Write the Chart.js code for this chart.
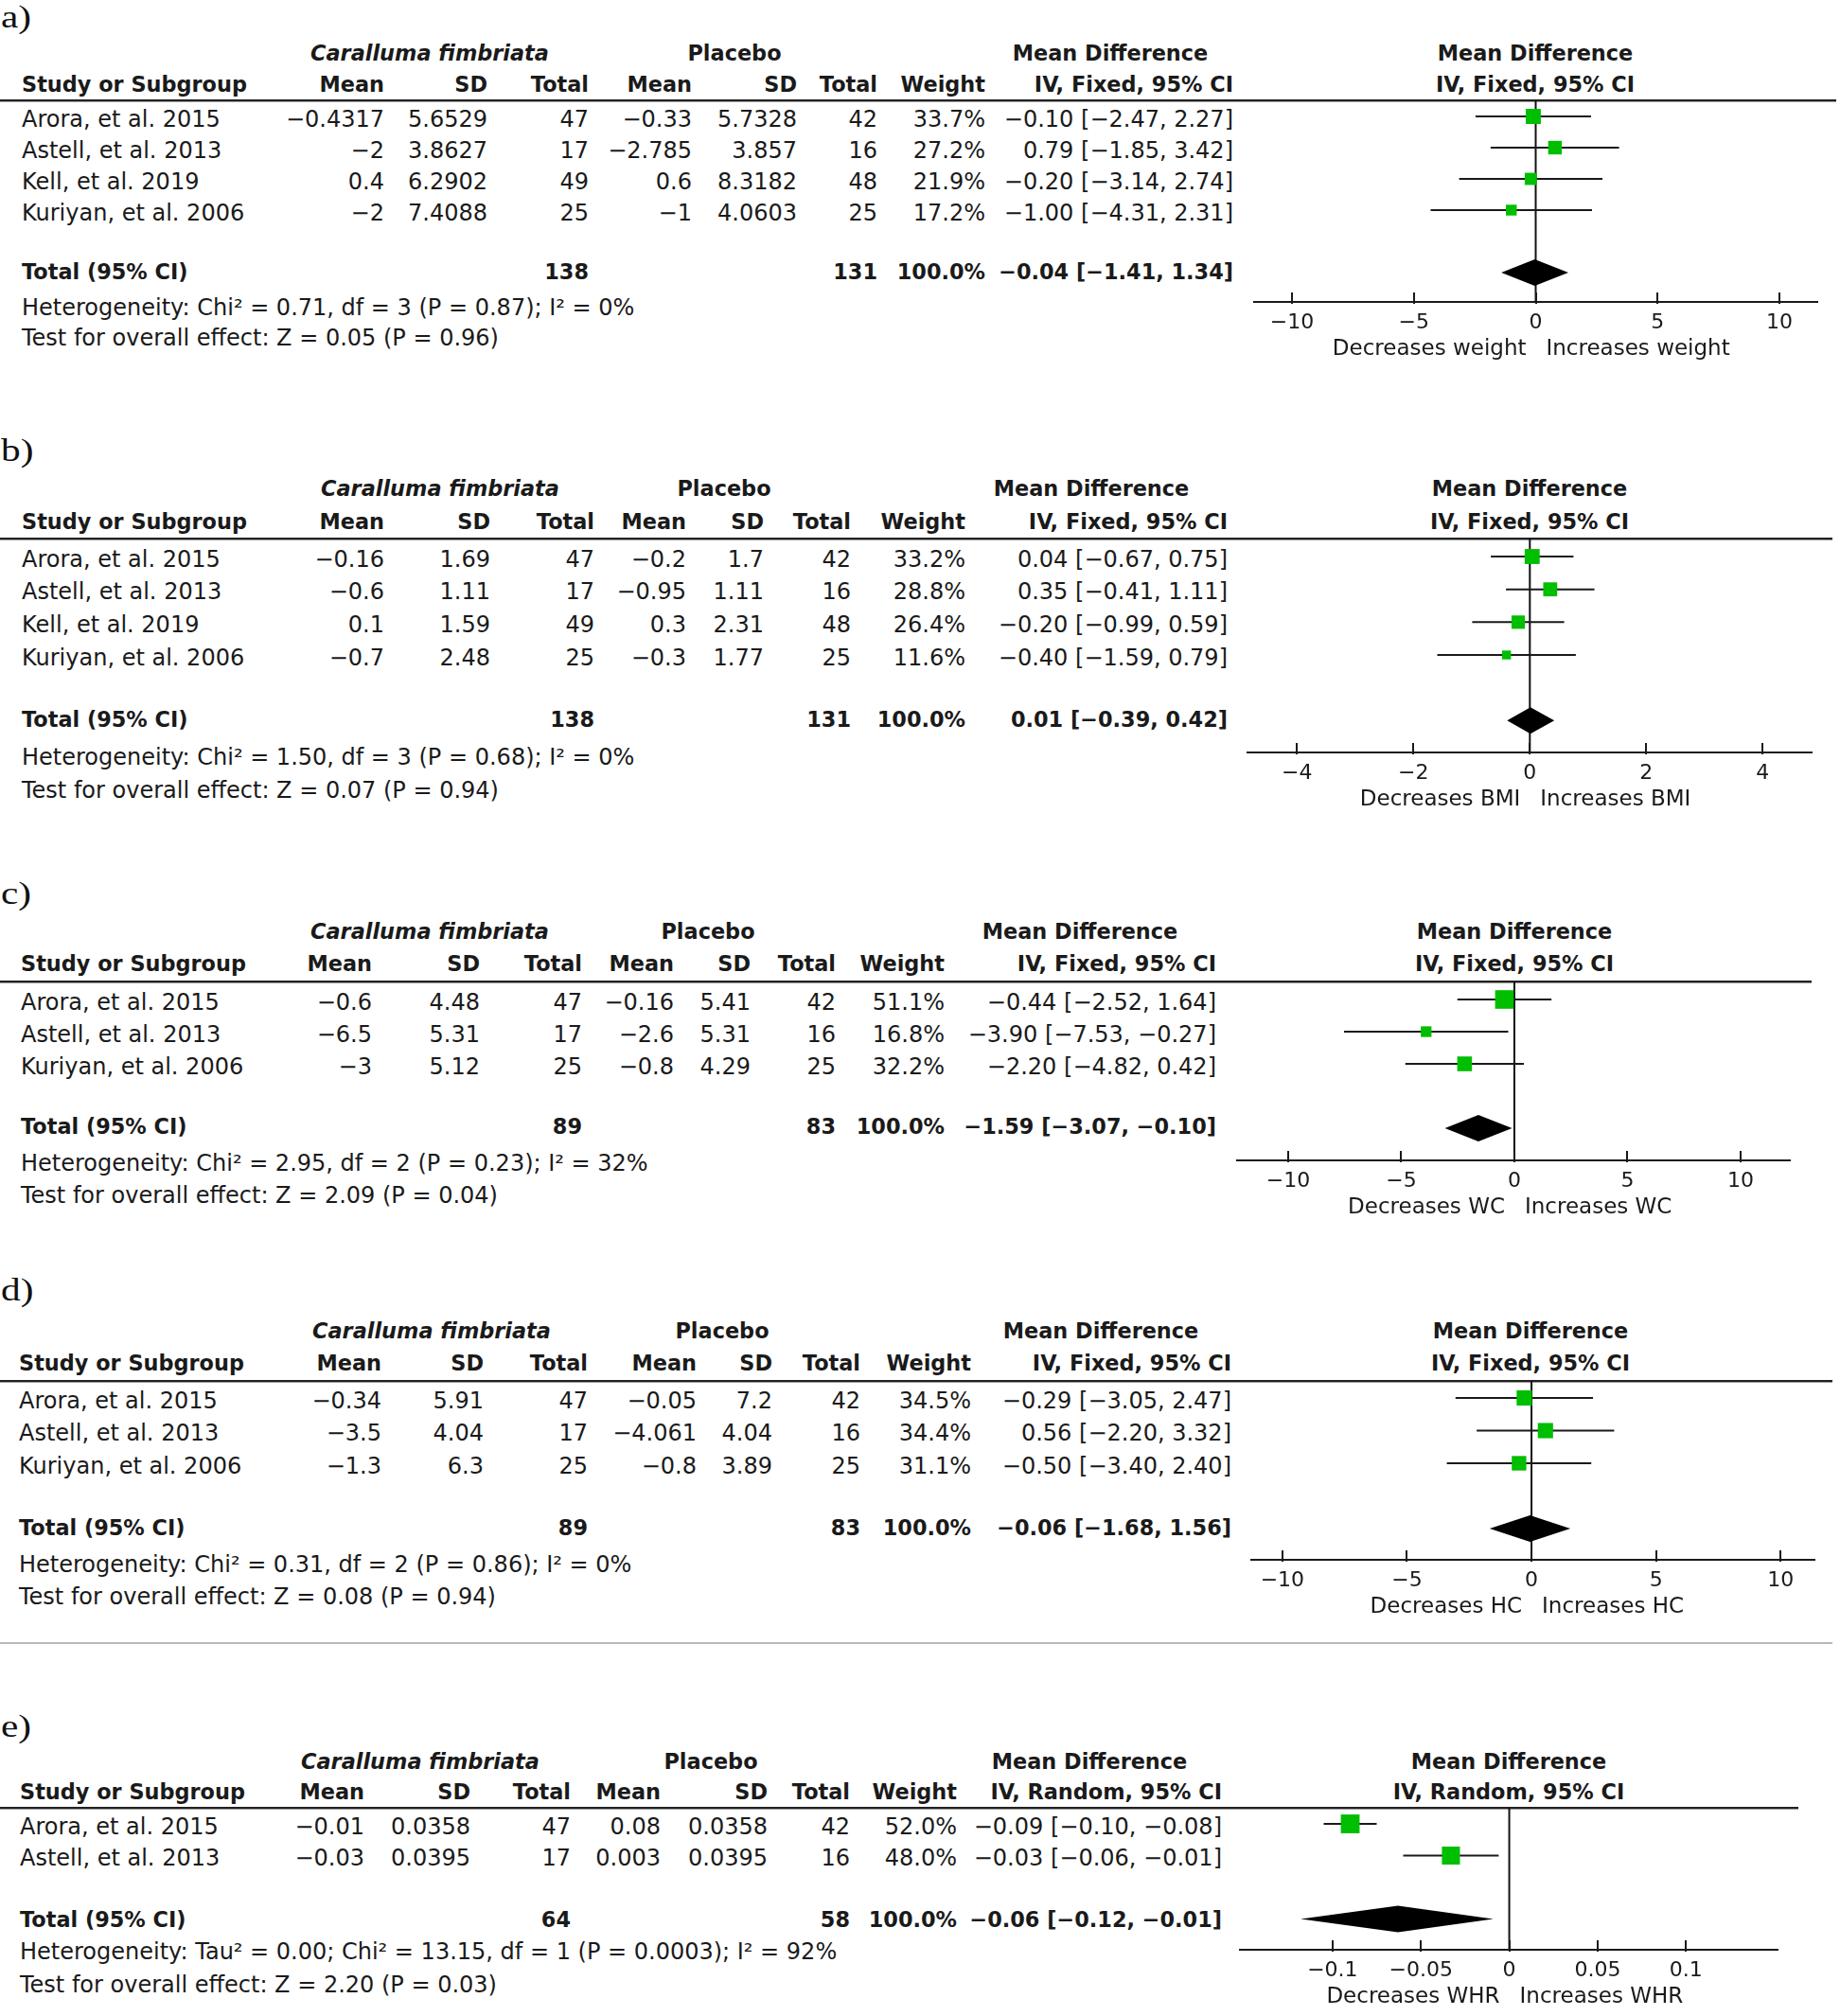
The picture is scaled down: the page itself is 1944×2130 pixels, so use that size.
<!DOCTYPE html>
<html><head><meta charset="utf-8">
<script src="https://cdn.jsdelivr.net/npm/chart.js@4.4.1/dist/chart.umd.min.js"></script>
<style>
html,body{margin:0;padding:0;background:#fff;}
#page{position:relative;width:1944px;height:2130px;overflow:hidden;background:#fff;font-family:"DejaVu Sans",sans-serif;color:#1a1a1a;}
.t{position:absolute;white-space:nowrap;font-size:24px;line-height:30px;height:30px;}
.b{font-weight:bold;font-size:22.4px;}
.i{font-style:italic;}
.lbl{position:absolute;left:1px;font-family:"Liberation Serif",serif;font-size:33px;line-height:40px;transform:scaleX(1.25);transform-origin:left center;color:#111;}
.hr{position:absolute;left:0;height:3px;background:linear-gradient(#222 0,#222 2px,#999 2px,#999 3px);}
.sep{position:absolute;left:0;height:2px;background:#b8b8b8;}
canvas{position:absolute;}
</style></head><body><div id="page"></div>
<script>
// ---------------- DATA ----------------
// a) body weight
const studiesA = ["Arora, et al. 2015","Astell, et al. 2013","Kell, et al. 2019","Kuriyan, et al. 2006"];
const cfMeanA = [-0.4317,-2,0.4,-2];
const cfSdA = [5.6529,3.8627,6.2902,7.4088];
const cfNA = [47,17,49,25];
const plMeanA = [-0.33,-2.785,0.6,-1];
const plSdA = [5.7328,3.857,8.3182,4.0603];
const plNA = [42,16,48,25];
const weightA = [33.7,27.2,21.9,17.2];
const ciTextA = ["−0.10 [−2.47, 2.27]","0.79 [−1.85, 3.42]","−0.20 [−3.14, 2.74]","−1.00 [−4.31, 2.31]"];
const mdA = [-0.10,0.79,-0.20,-1.00];
const loA = [-2.47,-1.85,-3.14,-4.31];
const hiA = [2.27,3.42,2.74,2.31];
const totalA = {cfN:138, plN:131, weight:100.0, text:"−0.04 [−1.41, 1.34]", md:-0.04, lo:-1.41, hi:1.34};
const hetA = "Heterogeneity: Chi² = 0.71, df = 3 (P = 0.87); I² = 0%";
const testA = "Test for overall effect: Z = 0.05 (P = 0.96)";
const ticksA = [-10,-5,0,5,10];
const rangeA = [-11.55,11.55];
const sidesA = ["Decreases weight","Increases weight"];

// b) BMI
const studiesB = ["Arora, et al. 2015","Astell, et al. 2013","Kell, et al. 2019","Kuriyan, et al. 2006"];
const cfMeanB = [-0.16,-0.6,0.1,-0.7];
const cfSdB = [1.69,1.11,1.59,2.48];
const cfNB = [47,17,49,25];
const plMeanB = [-0.2,-0.95,0.3,-0.3];
const plSdB = [1.7,1.11,2.31,1.77];
const plNB = [42,16,48,25];
const weightB = [33.2,28.8,26.4,11.6];
const ciTextB = ["0.04 [−0.67, 0.75]","0.35 [−0.41, 1.11]","−0.20 [−0.99, 0.59]","−0.40 [−1.59, 0.79]"];
const mdB = [0.04,0.35,-0.20,-0.40];
const loB = [-0.67,-0.41,-0.99,-1.59];
const hiB = [0.75,1.11,0.59,0.79];
const totalB = {cfN:138, plN:131, weight:100.0, text:"0.01 [−0.39, 0.42]", md:0.01, lo:-0.39, hi:0.42};
const hetB = "Heterogeneity: Chi² = 1.50, df = 3 (P = 0.68); I² = 0%";
const testB = "Test for overall effect: Z = 0.07 (P = 0.94)";
const ticksB = [-4,-2,0,2,4];
const rangeB = [-4.85,4.84];
const sidesB = ["Decreases BMI","Increases BMI"];

// c) waist circumference
const studiesC = ["Arora, et al. 2015","Astell, et al. 2013","Kuriyan, et al. 2006"];
const cfMeanC = [-0.6,-6.5,-3];
const cfSdC = [4.48,5.31,5.12];
const cfNC = [47,17,25];
const plMeanC = [-0.16,-2.6,-0.8];
const plSdC = [5.41,5.31,4.29];
const plNC = [42,16,25];
const weightC = [51.1,16.8,32.2];
const ciTextC = ["−0.44 [−2.52, 1.64]","−3.90 [−7.53, −0.27]","−2.20 [−4.82, 0.42]"];
const mdC = [-0.44,-3.90,-2.20];
const loC = [-2.52,-7.53,-4.82];
const hiC = [1.64,-0.27,0.42];
const totalC = {cfN:89, plN:83, weight:100.0, text:"−1.59 [−3.07, −0.10]", md:-1.59, lo:-3.07, hi:-0.10};
const hetC = "Heterogeneity: Chi² = 2.95, df = 2 (P = 0.23); I² = 32%";
const testC = "Test for overall effect: Z = 2.09 (P = 0.04)";
const ticksC = [-10,-5,0,5,10];
const rangeC = [-12.26,12.18];
const sidesC = ["Decreases WC","Increases WC"];

// d) hip circumference
const studiesD = ["Arora, et al. 2015","Astell, et al. 2013","Kuriyan, et al. 2006"];
const cfMeanD = [-0.34,-3.5,-1.3];
const cfSdD = [5.91,4.04,6.3];
const cfND = [47,17,25];
const plMeanD = [-0.05,-4.061,-0.8];
const plSdD = [7.2,4.04,3.89];
const plND = [42,16,25];
const weightD = [34.5,34.4,31.1];
const ciTextD = ["−0.29 [−3.05, 2.47]","0.56 [−2.20, 3.32]","−0.50 [−3.40, 2.40]"];
const mdD = [-0.29,0.56,-0.50];
const loD = [-3.05,-2.20,-3.40];
const hiD = [2.47,3.32,2.40];
const totalD = {cfN:89, plN:83, weight:100.0, text:"−0.06 [−1.68, 1.56]", md:-0.06, lo:-1.68, hi:1.56};
const hetD = "Heterogeneity: Chi² = 0.31, df = 2 (P = 0.86); I² = 0%";
const testD = "Test for overall effect: Z = 0.08 (P = 0.94)";
const ticksD = [-10,-5,0,5,10];
const rangeD = [-11.25,11.36];
const sidesD = ["Decreases HC","Increases HC"];

// e) waist-hip ratio
const studiesE = ["Arora, et al. 2015","Astell, et al. 2013"];
const cfMeanE = [-0.01,-0.03];
const cfSdE = [0.0358,0.0395];
const cfNE = [47,17];
const plMeanE = [0.08,0.003];
const plSdE = [0.0358,0.0395];
const plNE = [42,16];
const weightE = [52.0,48.0];
const ciTextE = ["−0.09 [−0.10, −0.08]","−0.03 [−0.06, −0.01]"];
const mdE = [-0.09,-0.033];
const loE = [-0.105,-0.060];
const hiE = [-0.075,-0.006];
const totalE = {cfN:64, plN:58, weight:100.0, text:"−0.06 [−0.12, −0.01]", md:-0.063, lo:-0.118, hi:-0.009};
const hetE = "Heterogeneity: Tau² = 0.00; Chi² = 13.15, df = 1 (P = 0.0003); I² = 92%";
const testE = "Test for overall effect: Z = 2.20 (P = 0.03)";
const ticksE = [-0.1,-0.05,0,0.05,0.1];
const rangeE = [-0.1524,0.1518];
const sidesE = ["Decreases WHR","Increases WHR"];

// ---------------- LAYOUT (pixels) ----------------
const layoutA = {label:21, h1:56, h2:89, div:106, divEnd:1940, row0:123, rowH:33, total:287, het:325, test:357, axis:319, axL:1325, axR:1920, studyX:23, cols:[406,515,622,731,842,927,1041,1303], h1c:[454,776,1173], fc:1622};
const layoutB = {label:479, h1:516, h2:551, div:569, divEnd:1936, row0:588, rowH:34.67, total:760, het:800, test:835, axis:795, axL:1318, axR:1914, studyX:23, cols:[406,518,628,725,807,899,1020,1297], h1c:[465,765,1153], fc:1616};
const layoutC = {label:947, h1:984, h2:1018, div:1037, divEnd:1914, row0:1056, rowH:34, total:1190, het:1229, test:1263, axis:1226, axL:1307, axR:1891, studyX:22, cols:[393,507,615,712,793,883,998,1285], h1c:[454,748,1141], fc:1600};
const layoutD = {label:1366, h1:1406, h2:1440, div:1459, divEnd:1936, row0:1477, rowH:34.5, total:1614, het:1653, test:1687, axis:1648, axL:1322, axR:1917, studyX:20, cols:[403,511,621,736,816,909,1026,1301], h1c:[456,763,1163], fc:1617};
const layoutE = {label:1827, h1:1861, h2:1893, div:1910, divEnd:1900, row0:1927, rowH:33.5, total:2028, het:2062, test:2097, axis:2060, axL:1310, axR:1878, studyX:21, cols:[385,497,603,698,811,898,1011,1291], h1c:[444,751,1151], fc:1594};

const panels = [
  {tag:"a)", studies:studiesA, cfMean:cfMeanA, cfSd:cfSdA, cfN:cfNA, plMean:plMeanA, plSd:plSdA, plN:plNA, weight:weightA, ciText:ciTextA, md:mdA, lo:loA, hi:hiA, total:totalA, het:hetA, test:testA, ticks:ticksA, range:rangeA, sides:sidesA, method:"IV, Fixed, 95% CI", L:layoutA},
  {tag:"b)", studies:studiesB, cfMean:cfMeanB, cfSd:cfSdB, cfN:cfNB, plMean:plMeanB, plSd:plSdB, plN:plNB, weight:weightB, ciText:ciTextB, md:mdB, lo:loB, hi:hiB, total:totalB, het:hetB, test:testB, ticks:ticksB, range:rangeB, sides:sidesB, method:"IV, Fixed, 95% CI", L:layoutB},
  {tag:"c)", studies:studiesC, cfMean:cfMeanC, cfSd:cfSdC, cfN:cfNC, plMean:plMeanC, plSd:plSdC, plN:plNC, weight:weightC, ciText:ciTextC, md:mdC, lo:loC, hi:hiC, total:totalC, het:hetC, test:testC, ticks:ticksC, range:rangeC, sides:sidesC, method:"IV, Fixed, 95% CI", L:layoutC},
  {tag:"d)", studies:studiesD, cfMean:cfMeanD, cfSd:cfSdD, cfN:cfND, plMean:plMeanD, plSd:plSdD, plN:plND, weight:weightD, ciText:ciTextD, md:mdD, lo:loD, hi:hiD, total:totalD, het:hetD, test:testD, ticks:ticksD, range:rangeD, sides:sidesD, method:"IV, Fixed, 95% CI", L:layoutD},
  {tag:"e)", studies:studiesE, cfMean:cfMeanE, cfSd:cfSdE, cfN:cfNE, plMean:plMeanE, plSd:plSdE, plN:plNE, weight:weightE, ciText:ciTextE, md:mdE, lo:loE, hi:hiE, total:totalE, het:hetE, test:testE, ticks:ticksE, range:rangeE, sides:sidesE, method:"IV, Random, 95% CI", L:layoutE}
];

// ---------------- RENDER ----------------
const W = 1944;
const page = document.getElementById('page');
const INK = '#1a1a1a';
const GREEN = 'rgb(0,190,0)';
const fmt = v => String(v).replace('-', '−');

function txt(x, y, s, align, cls) {
  const d = document.createElement('div');
  d.className = 't ' + (cls || '');
  d.textContent = s;
  d.style.top = (y - 15) + 'px';
  if (align === 'l') d.style.left = x + 'px';
  else if (align === 'r') d.style.right = (W - x) + 'px';
  else { d.style.left = (x - 400) + 'px'; d.style.width = '800px'; d.style.textAlign = 'center'; }
  page.appendChild(d);
}
function rule(cls, y, w) {
  const d = document.createElement('div');
  d.className = cls;
  d.style.top = y + 'px';
  d.style.width = w + 'px';
  page.appendChild(d);
}
function label(s, y) {
  const d = document.createElement('div');
  d.className = 'lbl';
  d.textContent = s;
  d.style.top = (y - 23) + 'px';
  page.appendChild(d);
}

function buildTable(p) {
  const L = p.L, c = L.cols;
  label(p.tag, L.label);
  txt(L.h1c[0], L.h1, 'Caralluma fimbriata', 'c', 'b i');
  txt(L.h1c[1], L.h1, 'Placebo', 'c', 'b');
  txt(L.h1c[2], L.h1, 'Mean Difference', 'c', 'b');
  txt(L.fc, L.h1, 'Mean Difference', 'c', 'b');
  txt(L.studyX, L.h2, 'Study or Subgroup', 'l', 'b');
  ['Mean','SD','Total','Mean','SD','Total','Weight',p.method].forEach((h,k) => txt(c[k], L.h2, h, 'r', 'b'));
  txt(L.fc, L.h2, p.method, 'c', 'b');
  rule('hr', L.div - 1, L.divEnd);
  p.studies.forEach((s, i) => {
    const y = L.row0 + i * L.rowH + 2.5;
    txt(L.studyX, y, s, 'l');
    txt(c[0], y, fmt(p.cfMean[i]), 'r');
    txt(c[1], y, fmt(p.cfSd[i]), 'r');
    txt(c[2], y, String(p.cfN[i]), 'r');
    txt(c[3], y, fmt(p.plMean[i]), 'r');
    txt(c[4], y, fmt(p.plSd[i]), 'r');
    txt(c[5], y, String(p.plN[i]), 'r');
    txt(c[6], y, p.weight[i].toFixed(1) + '%', 'r');
    txt(c[7], y, p.ciText[i], 'r');
  });
  txt(L.studyX, L.total, 'Total (95% CI)', 'l', 'b');
  txt(c[2], L.total, String(p.total.cfN), 'r', 'b');
  txt(c[5], L.total, String(p.total.plN), 'r', 'b');
  txt(c[6], L.total, p.total.weight.toFixed(1) + '%', 'r', 'b');
  txt(c[7], L.total, p.total.text, 'r', 'b');
  txt(L.studyX, L.het, p.het, 'l');
  txt(L.studyX, L.test, p.test, 'l');
}

const forestPlugin = {
  id: 'forest',
  beforeDatasetsDraw(chart, args, o) {
    const {ctx, chartArea, scales: {x}} = chart;
    const x0 = x.getPixelForValue(0);
    ctx.save();
    ctx.strokeStyle = '#111'; ctx.lineWidth = 2;
    ctx.beginPath(); ctx.moveTo(x0, chartArea.top); ctx.lineTo(x0, chartArea.bottom); ctx.stroke();
    ctx.restore();
  },
  afterDatasetsDraw(chart, args, o) {
    const {ctx, scales: {x, y}} = chart;
    const t = o.total;
    const xl = x.getPixelForValue(t.lo), xc = x.getPixelForValue(t.md), xr = x.getPixelForValue(t.hi);
    const yc = y.getPixelForValue(t.y), h = 14;
    ctx.save();
    ctx.fillStyle = '#000';
    ctx.beginPath(); ctx.moveTo(xl, yc); ctx.lineTo(xc, yc - h); ctx.lineTo(xr, yc); ctx.lineTo(xc, yc + h); ctx.closePath(); ctx.fill();
    ctx.restore();
  },
  afterDraw(chart, args, o) {
    const {ctx, chartArea, scales: {x}} = chart;
    const yA = chartArea.bottom;
    ctx.save();
    ctx.strokeStyle = INK; ctx.lineWidth = 2;
    x.ticks.forEach((tk) => {
      const px = Math.round(x.getPixelForValue(tk.value));
      ctx.beginPath(); ctx.moveTo(px, yA - 10); ctx.lineTo(px, yA + 2); ctx.stroke();
    });
    const x0 = x.getPixelForValue(0);
    ctx.fillStyle = INK;
    ctx.font = '23px "DejaVu Sans"';
    ctx.textBaseline = 'middle';
    ctx.textAlign = 'right'; ctx.fillText(o.sides[0], x0 - 10, yA + 50);
    ctx.textAlign = 'left'; ctx.fillText(o.sides[1], x0 + 11, yA + 50);
    ctx.restore();
  }
};

function buildChart(p) {
  const L = p.L;
  const cx0 = 1300, cw = W - cx0, extra = 80;
  const ch = Math.round(L.axis - L.div) + extra;
  const cv = document.createElement('canvas');
  cv.width = cw; cv.height = ch;
  cv.style.left = cx0 + 'px'; cv.style.top = L.div + 'px';
  cv.style.width = cw + 'px'; cv.style.height = ch + 'px';
  page.appendChild(cv);
  const n = p.studies.length;
  const yMin = (L.div - L.row0) / L.rowH;
  const yMax = (L.div + ch - extra - L.row0) / L.rowH;
  const datasets = [{
    label: 'Mean difference',
    data: p.md.map((v, i) => ({x: v, y: i})),
    pointStyle: 'rect',
    pointRadius: p.weight.map(w => 2.75 * Math.sqrt(w) / Math.SQRT2),
    backgroundColor: GREEN, borderWidth: 0, showLine: false, order: 0
  }];
  p.studies.forEach((s, i) => datasets.push({
    label: s + ' 95% CI',
    data: [{x: p.lo[i], y: i}, {x: p.hi[i], y: i}],
    showLine: true, borderColor: INK, borderWidth: 2, pointRadius: 0, order: 1
  }));
  new Chart(cv, {
    type: 'scatter',
    data: {datasets},
    plugins: [forestPlugin],
    options: {
      responsive: false, animation: false, devicePixelRatio: 1, events: [],
      layout: {autoPadding: false, padding: {left: L.axL - cx0, right: W - L.axR, top: 0, bottom: 0}},
      plugins: {
        legend: {display: false}, tooltip: {enabled: false}, title: {display: false},
        forest: {total: {md: p.total.md, lo: p.total.lo, hi: p.total.hi, y: n + 1}, sides: p.sides}
      },
      scales: {
        x: {
          type: 'linear', position: 'bottom', min: p.range[0], max: p.range[1],
          afterBuildTicks: s => { s.ticks = p.ticks.map(v => ({value: v})); },
          afterFit: s => { s.height = extra; },
          grid: {display: true, drawOnChartArea: false, drawTicks: false},
          border: {display: true, color: INK, width: 2},
          ticks: {padding: 9, color: INK, font: {family: 'DejaVu Sans', size: 22}, maxRotation: 0, autoSkip: false, callback: v => fmt(v)}
        },
        y: {type: 'linear', display: false, reverse: true, min: yMin, max: yMax}
      }
    }
  });
}

panels.forEach(p => { buildTable(p); buildChart(p); });
rule('sep', 1735, 1936);
</script></body></html>
